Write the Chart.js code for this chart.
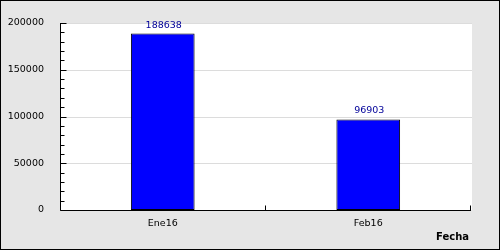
<!DOCTYPE html>
<html>
<head>
<meta charset="utf-8">
<script src="https://cdn.jsdelivr.net/npm/chart.js@4"></script>
<style>
  html, body { margin: 0; padding: 0; background: #e6e6e6; }
  canvas { display: block; }
</style>
</head>
<body>
<canvas id="c" width="500" height="250"></canvas>
<script>
const categories = ['Ene16', 'Feb16'];
const values = [188638, 96903];
const yTicks = [0, 50000, 100000, 150000, 200000];
const xTitle = 'Fecha';

const FONT = '"DejaVu Sans", Verdana, sans-serif';

const decor = {
  id: 'decor',
  beforeDraw(chart) {
    const ctx = chart.ctx;
    const a = chart.chartArea;
    ctx.save();
    ctx.fillStyle = '#e6e6e6';
    ctx.fillRect(0, 0, chart.width, chart.height);
    ctx.fillStyle = '#ffffff';
    ctx.fillRect(a.left, a.top, a.right - a.left + 1, a.bottom - a.top);
    const y = chart.scales.y;
    ctx.strokeStyle = '#dcdcdc';
    ctx.lineWidth = 1;
    yTicks.forEach(v => {
      if (v === 0) return;
      const py = Math.round(y.getPixelForValue(v)) + 0.5;
      ctx.beginPath();
      ctx.moveTo(a.left, py);
      ctx.lineTo(a.right + 1, py);
      ctx.stroke();
    });
    ctx.restore();
  },
  afterDatasetsDraw(chart) {
    const ctx = chart.ctx;
    const a = chart.chartArea;
    const y = chart.scales.y;
    ctx.save();
    ctx.strokeStyle = '#000000';
    ctx.lineWidth = 1;
    ctx.beginPath();
    const L = Math.round(a.left) + 0.5;
    const B = Math.round(a.bottom) + 0.5;
    ctx.moveTo(L, Math.round(a.top));
    ctx.lineTo(L, B);
    ctx.lineTo(Math.round(a.right), B);
    ctx.stroke();
    const step = yTicks[1] - yTicks[0];
    const minor = step / 5;
    for (let v = yTicks[0]; v <= yTicks[yTicks.length - 1]; v += minor) {
      const py = Math.round(y.getPixelForValue(v)) + 0.5;
      const isMajor = (v % step) === 0;
      ctx.beginPath();
      ctx.moveTo(L, py);
      ctx.lineTo(L + (isMajor ? 6 : 4), py);
      ctx.stroke();
    }
    const n = categories.length;
    const cw = (a.right - a.left) / n;
    for (let i = 1; i <= n; i++) {
      const px = Math.round(a.left + cw * i) - 0.5;
      ctx.beginPath();
      ctx.moveTo(px, B);
      ctx.lineTo(px, B - 5);
      ctx.stroke();
    }
    ctx.fillStyle = '#000099';
    ctx.font = '9.5px ' + FONT;
    ctx.textAlign = 'center';
    ctx.textBaseline = 'alphabetic';
    const meta = chart.getDatasetMeta(0);
    meta.data.forEach((bar, i) => {
      ctx.fillText(String(values[i]), bar.x + 1, bar.y - 6);
    });
    ctx.fillStyle = '#000000';
    ctx.font = 'bold 10px ' + FONT;
    ctx.textAlign = 'right';
    ctx.fillText(xTitle, 469, 240);
    ctx.strokeStyle = '#000000';
    ctx.strokeRect(0.5, 0.5, chart.width - 1, chart.height - 1);
    ctx.restore();
  }
};

new Chart(document.getElementById('c'), {
  type: 'bar',
  data: {
    labels: categories,
    datasets: [{
      data: values,
      backgroundColor: '#0000ff',
      borderColor: '#000000',
      borderWidth: 1,
      borderSkipped: false,
      barPercentage: 0.31,
      categoryPercentage: 1.0
    }]
  },
  options: {
    responsive: false,
    animation: false,
    devicePixelRatio: 1,
    layout: { padding: { top: 23, right: 29, bottom: 0, left: 0 } },
    plugins: { legend: { display: false }, tooltip: { enabled: false } },
    scales: {
      x: {
        grid: { display: false },
        border: { display: false },
        ticks: { color: '#000000', font: { family: FONT, size: 9.5 }, padding: 0, maxRotation: 0 },
        afterFit(s) { s.height = 40; }
      },
      y: {
        min: 0,
        max: 200000,
        grid: { display: false },
        border: { display: false },
        afterBuildTicks(s) { s.ticks = yTicks.map(v => ({ value: v })); },
        ticks: { color: '#000000', font: { family: FONT, size: 9.5 }, padding: 8,
                 callback: (v) => String(v) },
        afterFit(s) { s.width = 60; }
      }
    }
  },
  plugins: [decor]
});
</script>
</body>
</html>
